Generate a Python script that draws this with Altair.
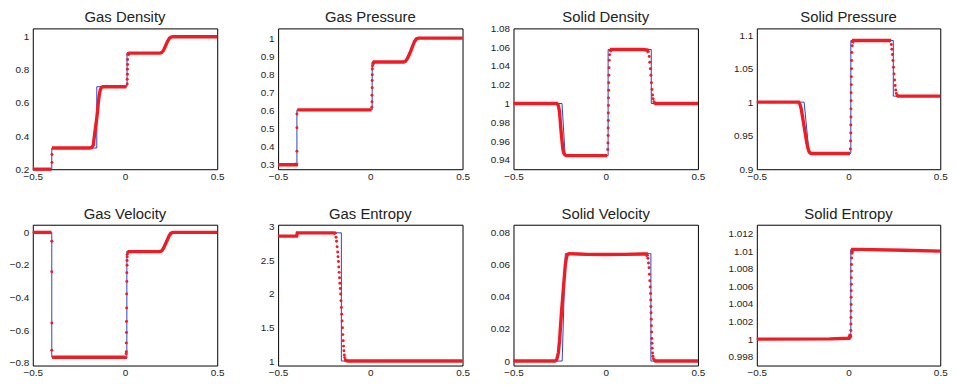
import altair as alt
import pandas as pd

BLUE = "#2b44c6"
RED = "#ee1c25"
FONT = "Liberation Sans"
X_TICKS = [-0.5, 0, 0.5]

# ---------------- Gas Density ----------------
GD_TITLE = "Gas Density"
GD_YDOM = [0.2, 1.05]
GD_YTICKS = [0.2, 0.4, 0.6, 0.8, 1]
GD_EXACT_X = [-0.5, -0.397, -0.397, -0.153, -0.153, 0.011, 0.011, 0.197, 0.243, 0.5]
GD_EXACT_Y = [0.2, 0.2, 0.328, 0.328, 0.698, 0.698, 0.901, 0.901, 1.0, 1.0]
GD_LINES = [
    ([-0.5, -0.399], [0.2, 0.2]),
    ([-0.396, -0.19, -0.18, -0.172, -0.166, -0.16, -0.154, -0.149, -0.145, -0.14, -0.134, -0.128, -0.12, 0.008],
     [0.328, 0.328, 0.332, 0.345, 0.4, 0.45, 0.5, 0.55, 0.6, 0.645, 0.68, 0.693, 0.698, 0.698]),
    ([0.015, 0.018, 0.025, 0.19, 0.2, 0.21, 0.22, 0.23, 0.24, 0.25, 0.26, 0.5],
     [0.885, 0.898, 0.901, 0.901, 0.905, 0.92, 0.945, 0.97, 0.99, 0.998, 1.0, 1.0]),
]
GD_DOTS_X = [-0.396, -0.396, 0.012, 0.012, 0.013, 0.013, 0.014, 0.014]
GD_DOTS_Y = [0.24, 0.289, 0.714, 0.743, 0.773, 0.803, 0.832, 0.862]

# ---------------- Gas Pressure ----------------
GP_TITLE = "Gas Pressure"
GP_YDOM = [0.275, 1.054]
GP_YTICKS = [0.3, 0.4, 0.5, 0.6, 0.7, 0.8, 0.9, 1]
GP_EXACT_X = [-0.5, -0.398, -0.398, 0.01, 0.01, 0.187, 0.245, 0.5]
GP_EXACT_Y = [0.3, 0.3, 0.603, 0.603, 0.868, 0.868, 1.0, 1.0]
GP_LINES = [
    ([-0.5, -0.401, -0.399], [0.3, 0.3, 0.31]),
    ([-0.396, 0.006], [0.603, 0.603]),
    ([0.013, 0.02, 0.18, 0.19, 0.2, 0.21, 0.22, 0.23, 0.24, 0.25, 0.26, 0.5],
     [0.855, 0.868, 0.868, 0.872, 0.885, 0.905, 0.93, 0.958, 0.982, 0.996, 1.0, 1.0]),
]
GP_DOTS_X = [-0.398, -0.398, -0.398, 0.008, 0.009, 0.009, 0.01, 0.01, 0.011, 0.011, 0.012]
GP_DOTS_Y = [0.374, 0.504, 0.581, 0.618, 0.648, 0.684, 0.726, 0.766, 0.798, 0.829, 0.847]

# ---------------- Solid Density ----------------
SD_TITLE = "Solid Density"
SD_YDOM = [0.93, 1.08]
SD_YTICKS = [0.94, 0.96, 0.98, 1, 1.02, 1.04, 1.06, 1.08]
SD_EXACT_X = [-0.5, -0.237, -0.22, 0.013, 0.013, 0.247, 0.247, 0.5]
SD_EXACT_Y = [1.0, 1.0, 0.9445, 0.9445, 1.0575, 1.0575, 1.0, 1.0]
SD_LINES = [
    ([-0.5, -0.265, -0.257, -0.252, -0.248, -0.244, -0.24, -0.236, -0.232, -0.227, -0.22, -0.212, -0.2, 0.008],
     [1.0, 1.0, 0.998, 0.993, 0.985, 0.975, 0.966, 0.958, 0.951, 0.947, 0.945, 0.9445, 0.9445, 0.9445]),
    ([0.022, 0.03, 0.1, 0.2, 0.226, 0.232], [1.055, 1.0575, 1.0575, 1.0575, 1.057, 1.054]),
    ([0.262, 0.27, 0.5], [1.001, 1.0, 1.0]),
]
SD_DOTS_X = [0.011, 0.012, 0.013, 0.013, 0.014, 0.014, 0.015, 0.015, 0.016, 0.016, 0.017, 0.018, 0.019, 0.021,
             0.236, 0.239, 0.242, 0.245, 0.248, 0.251, 0.254, 0.257, 0.261]
SD_DOTS_Y = [0.951, 0.958, 0.966, 0.974, 0.982, 0.99, 0.998, 1.006, 1.014, 1.022, 1.03, 1.038, 1.046, 1.052,
             1.05, 1.044, 1.037, 1.03, 1.022, 1.015, 1.009, 1.005, 1.002]

# ---------------- Solid Pressure ----------------
SP_TITLE = "Solid Pressure"
SP_YDOM = [0.9, 1.11]
SP_YTICKS = [0.9, 0.95, 1, 1.05, 1.1]
SP_EXACT_X = [-0.5, -0.242, -0.215, 0.0125, 0.0125, 0.244, 0.244, 0.5]
SP_EXACT_Y = [1.0, 1.0, 0.9235, 0.9235, 1.092, 1.092, 1.009, 1.009]
SP_LINES = [
    ([-0.5, -0.272, -0.265, -0.258, -0.252, -0.246, -0.24, -0.234, -0.228, -0.222, -0.215, -0.208, -0.2, 0.008],
     [1.0, 1.0, 0.997, 0.99, 0.98, 0.97, 0.96, 0.95, 0.94, 0.932, 0.926, 0.924, 0.9235, 0.9235]),
    ([0.02, 0.026, 0.1, 0.225, 0.23], [1.088, 1.092, 1.092, 1.092, 1.09]),
    ([0.262, 0.27, 0.5], [1.011, 1.009, 1.009]),
]
SP_DOTS_X = [0.010, 0.011, 0.012, 0.012, 0.013, 0.013, 0.014, 0.014, 0.015, 0.015, 0.016, 0.017, 0.018, 0.02,
             0.233, 0.236, 0.239, 0.242, 0.245, 0.248, 0.251, 0.254, 0.257, 0.26]
SP_DOTS_Y = [0.930, 0.942, 0.954, 0.966, 0.978, 0.99, 1.002, 1.014, 1.026, 1.038, 1.05, 1.062, 1.074, 1.084,
             1.086, 1.079, 1.071, 1.062, 1.052, 1.042, 1.033, 1.025, 1.018, 1.013]

# ---------------- Gas Velocity ----------------
GV_TITLE = "Gas Velocity"
GV_YDOM = [-0.818, 0.047]
GV_YTICKS = [-0.8, -0.6, -0.4, -0.2, 0]
GV_EXACT_X = [-0.5, -0.397, -0.397, 0.01, 0.01, 0.195, 0.243, 0.5]
GV_EXACT_Y = [0, 0, -0.767, -0.767, -0.118, -0.118, 0, 0]
GV_LINES = [
    ([-0.5, -0.399], [0, 0]),
    ([-0.395, -0.39, 0.004, 0.006], [-0.767, -0.767, -0.767, -0.762]),
    ([0.013, 0.02, 0.19, 0.2, 0.21, 0.22, 0.23, 0.24, 0.25, 0.26, 0.5],
     [-0.126, -0.118, -0.118, -0.112, -0.095, -0.07, -0.045, -0.02, -0.005, 0, 0]),
]
GV_DOTS_X = [-0.397, -0.397, -0.397, -0.397,
             0.006, 0.007, 0.007, 0.008, 0.008, 0.009, 0.009, 0.01, 0.01, 0.011, 0.011, 0.012, 0.012]
GV_DOTS_Y = [-0.055, -0.242, -0.556, -0.724,
             -0.745, -0.733, -0.68, -0.615, -0.547, -0.464, -0.379, -0.301, -0.248, -0.202, -0.173, -0.149, -0.134]

# ---------------- Gas Entropy ----------------
GE_TITLE = "Gas Entropy"
GE_YDOM = [0.943, 3.024]
GE_YTICKS = [1, 1.5, 2, 2.5, 3]
GE_EXACT_X = [-0.5, -0.397, -0.397, -0.157, -0.157, 0.5]
GE_EXACT_Y = [2.855, 2.855, 2.904, 2.904, 1.01, 1.01]
GE_LINES = [
    ([-0.5, -0.4, -0.398, -0.396, -0.2, -0.192, -0.188], [2.855, 2.855, 2.875, 2.904, 2.904, 2.9, 2.88]),
    ([-0.136, -0.13, -0.12, 0.5], [1.03, 1.015, 1.01, 1.01]),
]
GE_DOTS_X = [-0.186, -0.183, -0.18, -0.177, -0.175, -0.173, -0.171, -0.169, -0.167, -0.165, -0.163, -0.161,
             -0.159, -0.157, -0.155, -0.153, -0.151, -0.149, -0.147, -0.145, -0.143, -0.141, -0.139, -0.136]
GE_DOTS_Y = [2.84, 2.78, 2.7, 2.62, 2.55, 2.48, 2.4, 2.32, 2.24, 2.16, 2.08, 2.0,
             1.9, 1.8, 1.7, 1.6, 1.5, 1.4, 1.31, 1.23, 1.16, 1.1, 1.06, 1.03]

# ---------------- Solid Velocity ----------------
SV_TITLE = "Solid Velocity"
SV_YDOM = [-0.0028, 0.0848]
SV_YTICKS = [0, 0.02, 0.04, 0.06, 0.08]
SV_EXACT_X = [-0.5, -0.236, -0.219, 0.245, 0.245, 0.5]
SV_EXACT_Y = [0, 0, 0.0668, 0.0668, 0, 0]
SV_LINES = [
    ([-0.5, -0.275, -0.265, -0.257, -0.25, -0.246, -0.24, -0.233, -0.226, -0.219, -0.212, -0.205, -0.198,
      -0.15, -0.1, 0.0, 0.1, 0.2, 0.222, 0.227],
     [0, 0, 0.001, 0.005, 0.013, 0.02, 0.03, 0.04, 0.05, 0.06, 0.065, 0.0665, 0.0668,
      0.0666, 0.0664, 0.0663, 0.0664, 0.0666, 0.0666, 0.065]),
    ([0.26, 0.27, 0.5], [0.0008, 0, 0]),
]
SV_DOTS_X = [0.229, 0.232, 0.235, 0.237, 0.239, 0.241, 0.243, 0.244, 0.245, 0.246, 0.247, 0.248, 0.249,
             0.25, 0.251, 0.252, 0.254, 0.256, 0.258]
SV_DOTS_Y = [0.064, 0.061, 0.058, 0.054, 0.05, 0.046, 0.042, 0.038, 0.034, 0.03, 0.026, 0.022, 0.018,
             0.014, 0.011, 0.008, 0.005, 0.003, 0.0015]

# ---------------- Solid Entropy ----------------
SE_TITLE = "Solid Entropy"
SE_YDOM = [0.997, 1.013]
SE_YTICKS = [0.998, 1, 1.002, 1.004, 1.006, 1.008, 1.01, 1.012]
SE_EXACT_X = [-0.5, 0.0125, 0.0125, 0.5]
SE_EXACT_Y = [1.0, 1.0, 1.0102, 1.01]
SE_LINES = [
    ([-0.5, -0.1, 0.0, 0.006, 0.01], [1.0, 1.00003, 1.0001, 1.0003, 1.0006]),
    ([0.018, 0.022, 0.05, 0.3, 0.5], [1.0098, 1.0102, 1.0102, 1.0101, 1.01]),
]
SE_DOTS_X = [0.012, 0.0125, 0.013, 0.013, 0.0135, 0.014, 0.014, 0.0145, 0.015, 0.015, 0.0155, 0.016, 0.017, 0.018]
SE_DOTS_Y = [1.0003, 1.00097, 1.00172, 1.00245, 1.0032, 1.00394, 1.00476, 1.0055, 1.00624, 1.00699,
             1.00773, 1.00847, 1.00921, 1.00977]

PANELS = [
    (GD_TITLE, GD_YDOM, GD_YTICKS, GD_EXACT_X, GD_EXACT_Y, GD_LINES, GD_DOTS_X, GD_DOTS_Y),
    (GP_TITLE, GP_YDOM, GP_YTICKS, GP_EXACT_X, GP_EXACT_Y, GP_LINES, GP_DOTS_X, GP_DOTS_Y),
    (SD_TITLE, SD_YDOM, SD_YTICKS, SD_EXACT_X, SD_EXACT_Y, SD_LINES, SD_DOTS_X, SD_DOTS_Y),
    (SP_TITLE, SP_YDOM, SP_YTICKS, SP_EXACT_X, SP_EXACT_Y, SP_LINES, SP_DOTS_X, SP_DOTS_Y),
    (GV_TITLE, GV_YDOM, GV_YTICKS, GV_EXACT_X, GV_EXACT_Y, GV_LINES, GV_DOTS_X, GV_DOTS_Y),
    (GE_TITLE, GE_YDOM, GE_YTICKS, GE_EXACT_X, GE_EXACT_Y, GE_LINES, GE_DOTS_X, GE_DOTS_Y),
    (SV_TITLE, SV_YDOM, SV_YTICKS, SV_EXACT_X, SV_EXACT_Y, SV_LINES, SV_DOTS_X, SV_DOTS_Y),
    (SE_TITLE, SE_YDOM, SE_YTICKS, SE_EXACT_X, SE_EXACT_Y, SE_LINES, SE_DOTS_X, SE_DOTS_Y),
]

# per-column layout (plot width, y-axis extent); whole page must fit 956x385
WIDTHS = [186, 186, 186, 185]
Y_EXTENT = [24.5, 36.6, 27.1, 34.6]
HEIGHTS = [142, 142]
X_EXTENT = 12
# title offset per panel (panels whose top tick label pokes above the frame get less)
TITLE_OFFSETS = [3, 3, -2, 3, 3, -0.3, 3, 3]


def make_panel(spec, width, height, yext, toff):
    title, ydom, yticks, ex, ey, lines, dx, dy = spec
    exact_df = pd.DataFrame({"x": ex, "y": ey, "i": range(len(ex))})
    rows = []
    for s, (lx, ly) in enumerate(lines):
        for i, (a, b) in enumerate(zip(lx, ly)):
            rows.append({"x": a, "y": b, "seg": s, "i": i})
    line_df = pd.DataFrame(rows)
    dots_df = pd.DataFrame({"x": dx, "y": dy})

    xenc = alt.X("x:Q", scale=alt.Scale(domain=[-0.5, 0.5], nice=False, zero=False),
                 axis=alt.Axis(values=X_TICKS, title=None, labelFlush=False, format="~g",
                               labelPadding=2, minExtent=X_EXTENT, maxExtent=X_EXTENT))
    yenc = alt.Y("y:Q", scale=alt.Scale(domain=ydom, nice=False, zero=False),
                 axis=alt.Axis(values=yticks, title=None, format="~g",
                               labelPadding=4, minExtent=yext, maxExtent=yext))

    exact = alt.Chart(exact_df).mark_line(color=BLUE, strokeWidth=1).encode(
        x=xenc, y=yenc, order="i:Q")
    red_line = alt.Chart(line_df).mark_line(color=RED, strokeWidth=3.4).encode(
        x=xenc, y=yenc, detail="seg:N", order="i:Q")
    red_dots = alt.Chart(dots_df).mark_circle(color=RED, size=9, opacity=1).encode(x=xenc, y=yenc)
    return alt.layer(exact, red_line, red_dots).properties(
        width=width, height=height, title=alt.Title(title, offset=toff))


panels = []
for r in range(2):
    for c in range(4):
        k = r * 4 + c
        panels.append(make_panel(PANELS[k], WIDTHS[c], HEIGHTS[r], Y_EXTENT[c], TITLE_OFFSETS[k]))

chart = alt.concat(*panels, columns=4, spacing={"row": 24, "column": 15.4}, bounds="full").properties(
    padding={"left": 0, "top": 0, "right": 0, "bottom": 0}
).configure_view(
    stroke="black", strokeWidth=1
).configure_axis(
    domain=False, ticks=False, grid=False,
    labelFont=FONT, labelFontSize=10, labelColor="#222"
).configure_title(
    font=FONT, fontSize=15, fontWeight="normal", color="#222", anchor="middle"
)

chart.save("out.html", embed_options={"renderer": "svg", "actions": False})
